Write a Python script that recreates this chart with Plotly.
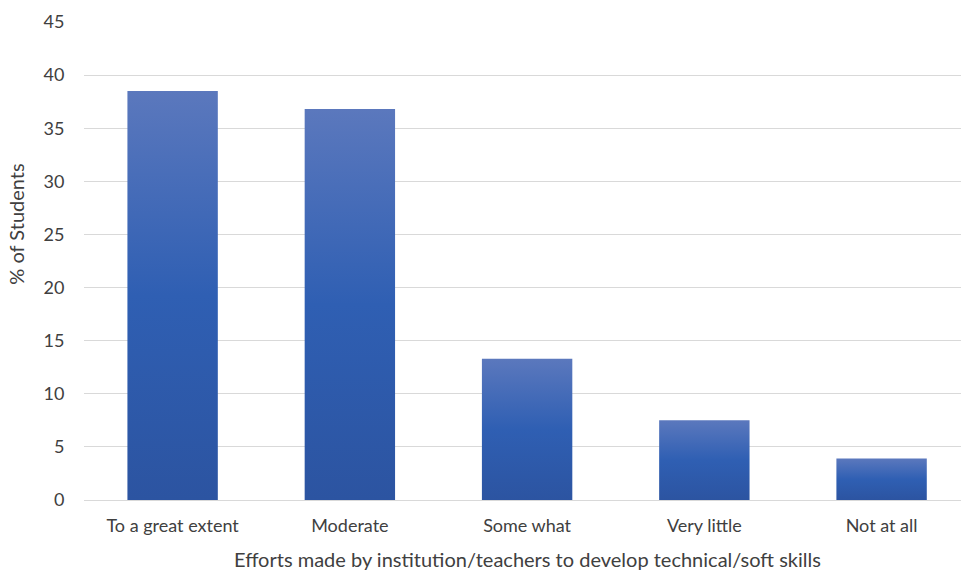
import plotly.graph_objects as go

categories = ["To a great extent", "Moderate", "Some what", "Very little", "Not at all"]
pct_students = [38.5, 36.8, 13.3, 7.5, 3.9]
y_ticks = [0, 5, 10, 15, 20, 25, 30, 35, 40, 45]

BAR_WIDTH = 0.51
gradient = [[0.0, "#2c54a1"], [0.5, "#2f5fb3"], [1.0, "#5b78bd"]]

fig = go.Figure()
for i, (cat, val) in enumerate(zip(categories, pct_students)):
    x0, x1 = i - BAR_WIDTH / 2, i + BAR_WIDTH / 2
    fig.add_trace(go.Scatter(
        x=[x0, x1, x1, x0, x0],
        y=[0, 0, val, val, 0],
        mode="lines",
        line=dict(width=0),
        fill="toself",
        fillgradient=dict(type="vertical", colorscale=gradient),
        name=cat,
        hoverinfo="text",
        text=f"{cat}: {val}",
        showlegend=False,
    ))

font = "Lato, 'Open Sans', sans-serif"
title_font = dict(family=font, size=20, color="#404040")

fig.update_layout(
    width=961, height=572,
    margin=dict(l=84, r=0, t=22, b=72),
    paper_bgcolor="white", plot_bgcolor="white",
    font=dict(family=font, color="#404040", size=18),
    xaxis=dict(
        range=[-0.5, 4.448],
        tickvals=list(range(len(categories))),
        ticktext=categories,
        showgrid=False, zeroline=False,
        showline=True, linecolor="#d9d9d9", linewidth=1,
        ticks="outside", ticklen=9, tickcolor="rgba(0,0,0,0)",
        tickfont=dict(size=18, color="#404040"),
        fixedrange=True,
    ),
    yaxis=dict(
        range=[0, 45],
        tickvals=y_ticks,
        showgrid=True, gridcolor="#d9d9d9", gridwidth=1,
        zeroline=False, showline=False,
        ticks="outside", ticklen=15, tickcolor="rgba(0,0,0,0)",
        tickfont=dict(size=18, color="#404040"),
        fixedrange=True,
    ),
    annotations=[
        dict(text="Efforts made by institution/teachers to develop technical/soft skills",
             xref="paper", yref="paper", x=0.5055, y=-0.123,
             xanchor="center", yanchor="middle", showarrow=False, font=title_font),
        dict(text="% of Students", textangle=-90,
             xref="paper", yref="paper", x=-0.077, y=0.577,
             xanchor="center", yanchor="middle", showarrow=False, font=title_font),
    ],
)

fig.write_html("out.html")
